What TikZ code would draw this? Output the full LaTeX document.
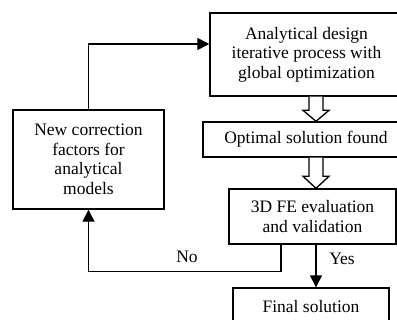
\documentclass[tikz,border=0pt]{standalone}
\usepackage{fontspec}
\setmainfont{Liberation Serif}
\usetikzlibrary{arrows.meta,calc}
\begin{document}
\begin{tikzpicture}[x=1bp,y=-1bp,
  box/.style={draw,line width=1.4bp,align=center,inner sep=0pt,
    font=\fontsize{17.5bp}{19.5bp}\selectfont},
  conn/.style={line width=1.4bp},
  tip/.style={-{Triangle[length=12bp,width=12bp]}},
  hollow/.style={draw,line width=1.3bp,fill=white},
  lbl/.style={font=\fontsize{17.5bp}{19bp}\selectfont}]
\useasboundingbox (0,0) rectangle (397,320);
\begin{scope}
\clip (0,0) rectangle (397,320);
\node[box,minimum width=193bp,minimum height=83bp] (ana) at (306.5,54.5)
  {Analytical design\\iterative process with\\global optimization};
\node[box,minimum width=206bp,minimum height=35bp] (opt) at (306,139.5)
  {Optimal solution found};
\node[box,minimum width=151bp,minimum height=99bp] (corr) at (88.5,159.5)
  {New correction\\factors for\\analytical\\models};
\node[box,minimum width=167bp,minimum height=55bp] (fe) at (312.5,216.5)
  {3D FE evaluation\\and validation};
\node[box,minimum width=156bp,minimum height=38bp] (fin) at (311,307)
  {Final solution};
\end{scope}
% feedback loop
\draw[conn,tip] (corr.north) |- ([yshift=10.5bp]ana.west);
\draw[conn,tip] ([xshift=-31.5bp]fe.south) -- ++(0,27) coordinate (nocorner) -| (corr.south);
\node[lbl] (no) at (187,257) {No};
\draw[conn,tip] ([xshift=3.5bp]fe.south) -- ([xshift=3.5bp]fe.south |- fin.north);
\node[lbl] (yes) at (342,259) {Yes};
% hollow arrows
\coordinate (h1s) at ([xshift=9.5bp]ana.south);
\coordinate (h1e) at ([xshift=10bp]opt.north);
\draw[hollow] ($(h1s)+(-7,0)$) -- ($(h1e)+(-7,-11)$) -- ($(h1e)+(-13,-11)$) -- (h1e)
  -- ($(h1e)+(13,-11)$) -- ($(h1e)+(7,-11)$) -- ($(h1s)+(7,0)$);
\coordinate (h2s) at ([xshift=10bp]opt.south);
\coordinate (h2e) at ([xshift=3.5bp]fe.north);
\draw[hollow] ($(h2s)+(-7,0)$) -- ($(h2e)+(-7,-12)$) -- ($(h2e)+(-13,-12)$) -- (h2e)
  -- ($(h2e)+(13,-12)$) -- ($(h2e)+(7,-12)$) -- ($(h2s)+(7,0)$);
\end{tikzpicture}
\end{document}
